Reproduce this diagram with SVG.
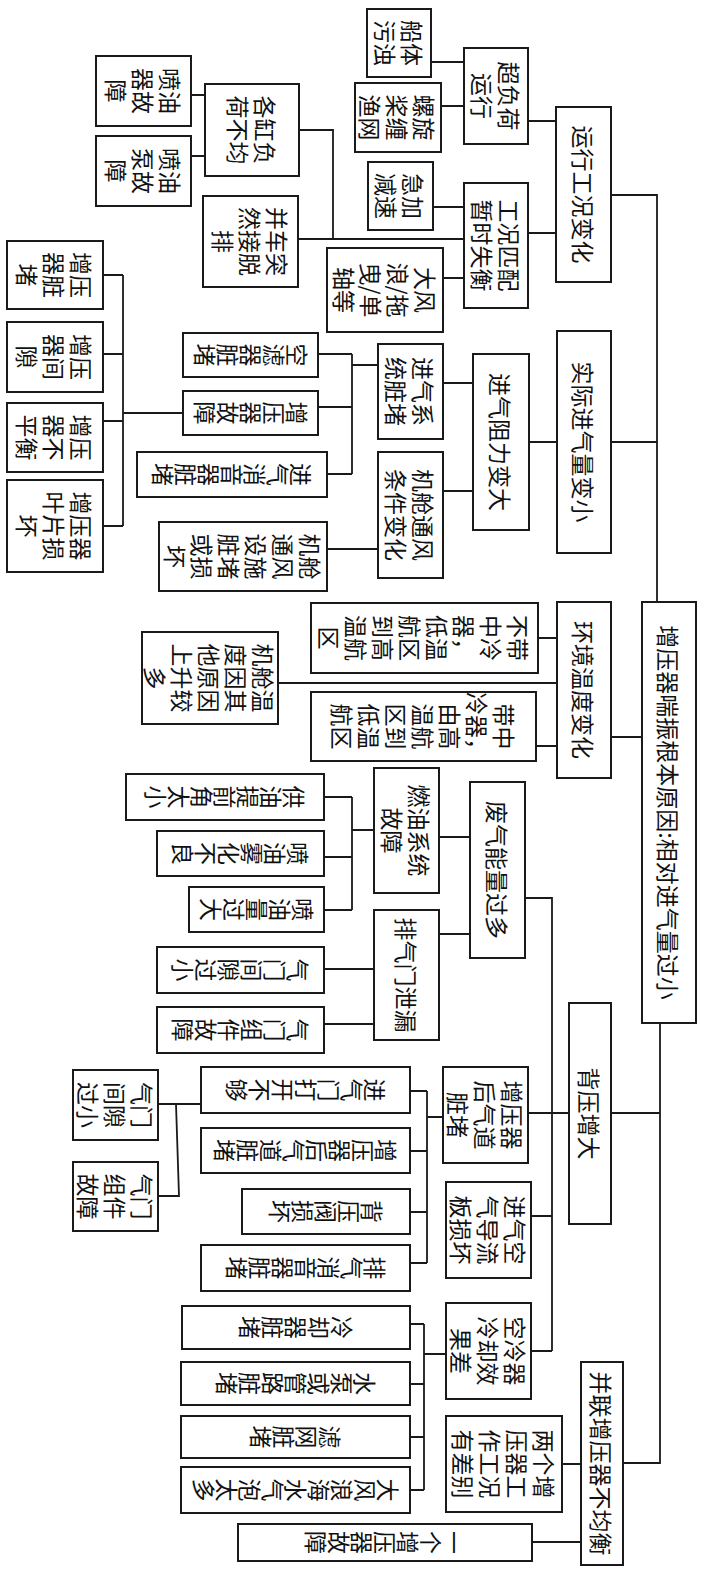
<svg xmlns="http://www.w3.org/2000/svg" width="720" height="1587" viewBox="0 0 720 1587">
<style>
.b{fill:#fff;stroke:#1a1a1a;stroke-width:2}
.c{fill:none;stroke:#1a1a1a;stroke-width:1.8}
.t{font-family:"Noto Sans CJK SC","Noto Sans",sans-serif;font-size:23px;fill:#111;text-anchor:middle;dominant-baseline:central}
.v{writing-mode:vertical-rl}
</style>
<rect width="720" height="1587" fill="#fff"/>
<g id="connectors">
<path class="c" d="M431,62H464M441,106H464M528,121H556M433,207H464M299,130H333V239M298,239H464M443,278H464M528,233H556M191,95H205M191,156H205"/>
<path class="c" d="M611,195H657V602M611,442H657M529,442H557M443,383H473M443,491H473M327,549H378"/>
<path class="c" d="M352,354V474M318,354H352M318,407H352M327,474H352M352,365H378"/>
<path class="c" d="M123,275V526M103,275H123M103,354H123M103,421H123M103,526H123M123,413H183"/>
<path class="c" d="M611,737H642M538,638H557M278,683H557M536,746H557"/>
<path class="c" d="M352,797V910M324,797H352M324,857H352M324,910H352M352,830H374M324,969H374M324,1024H374M439,837H470M439,934H470"/>
<path class="c" d="M525,898H552V1351M528,1113H569M611,1113H660M660,1023V1463H623M531,1216H552M531,1351H552"/>
<path class="c" d="M427,1091V1263M410,1091H427M410,1151H427M410,1212H427M410,1263H427M427,1117H443"/>
<path class="c" d="M158,1104H201M176,1104L179,1196H158"/>
<path class="c" d="M424,1324V1490M410,1324H424M410,1384H424M410,1437H424M410,1490H424M424,1354H446"/>
<path class="c" d="M562,1464H581M532,1542H581"/>
</g>
<g id="n1"><rect class="b" x="367" y="9" width="64" height="68"/><text class="t" transform="translate(412.5,43) rotate(90)">船体</text><text class="t" transform="translate(385.5,43) rotate(90)">污浊</text></g>
<g id="n2"><rect class="b" x="464" y="48" width="64" height="96"/><text class="t" transform="translate(509.5,96) rotate(90)">超负荷</text><text class="t" transform="translate(482.5,96) rotate(90)">运行</text></g>
<g id="n3"><rect class="b" x="355" y="83" width="86" height="69"/><text class="t" transform="translate(425,117.5) rotate(90)">螺旋</text><text class="t" transform="translate(398,117.5) rotate(90)">桨缠</text><text class="t" transform="translate(371,117.5) rotate(90)">渔网</text></g>
<g id="n4"><rect class="b" x="556" y="107" width="55" height="175"/><text class="t" transform="translate(583.5,194.5) rotate(90)">运行工况变化</text></g>
<g id="n5"><rect class="b" x="368" y="162" width="65" height="68"/><text class="t" transform="translate(414,196) rotate(90)">急加</text><text class="t" transform="translate(387,196) rotate(90)">减速</text></g>
<g id="n6"><rect class="b" x="464" y="183" width="64" height="125"/><text class="t" transform="translate(509.5,245.5) rotate(90)">工况匹配</text><text class="t" transform="translate(482.5,245.5) rotate(90)">暂时失衡</text></g>
<g id="n7"><rect class="b" x="327" y="248" width="116" height="84"/><text class="t" transform="translate(425.5,290) rotate(90)">大风</text><text class="t" transform="translate(398.5,290) rotate(90)">浪/拖</text><text class="t" transform="translate(371.5,290) rotate(90)">曳/单</text><text class="t" transform="translate(344.5,290) rotate(90)">轴等</text></g>
<g id="n8"><rect class="b" x="96" y="56" width="95" height="70"/><text class="t" transform="translate(170.5,91) rotate(90)">喷油</text><text class="t" transform="translate(143.5,91) rotate(90)">器故</text><text class="t" transform="translate(116.5,91) rotate(90)">障</text></g>
<g id="n9"><rect class="b" x="205" y="84" width="94" height="92"/><text class="t" transform="translate(265.5,130) rotate(90)">各缸负</text><text class="t" transform="translate(238.5,130) rotate(90)">荷不均</text></g>
<g id="n10"><rect class="b" x="96" y="136" width="95" height="70"/><text class="t" transform="translate(170.5,171) rotate(90)">喷油</text><text class="t" transform="translate(143.5,171) rotate(90)">泵故</text><text class="t" transform="translate(116.5,171) rotate(90)">障</text></g>
<g id="n11"><rect class="b" x="203" y="196" width="95" height="91"/><text class="t" transform="translate(277.5,241.5) rotate(90)">并车突</text><text class="t" transform="translate(250.5,241.5) rotate(90)">然接脱</text><text class="t" transform="translate(223.5,241.5) rotate(90)">排</text></g>
<g id="n12"><rect class="b" x="7" y="241" width="96" height="68"/><text class="t" transform="translate(82,275) rotate(90)">增压</text><text class="t" transform="translate(55,275) rotate(90)">器脏</text><text class="t" transform="translate(28,275) rotate(90)">堵</text></g>
<g id="n13"><rect class="b" x="7" y="322" width="96" height="70"/><text class="t" transform="translate(82,357) rotate(90)">增压</text><text class="t" transform="translate(55,357) rotate(90)">器间</text><text class="t" transform="translate(28,357) rotate(90)">隙</text></g>
<g id="n14"><rect class="b" x="7" y="403" width="96" height="69"/><text class="t" transform="translate(82,437.5) rotate(90)">增压</text><text class="t" transform="translate(55,437.5) rotate(90)">器不</text><text class="t" transform="translate(28,437.5) rotate(90)">平衡</text></g>
<g id="n15"><rect class="b" x="7" y="480" width="96" height="92"/><text class="t" transform="translate(82,526) rotate(90)">增压器</text><text class="t" transform="translate(55,526) rotate(90)">叶片损</text><text class="t" transform="translate(28,526) rotate(90)">坏</text></g>
<g id="n16"><rect class="b" x="183" y="333" width="135" height="44"/><text class="t v" transform="translate(250.5,355) rotate(90)">空滤器脏堵</text></g>
<g id="n17"><rect class="b" x="183" y="391" width="135" height="44"/><text class="t v" transform="translate(250.5,413) rotate(90)">增压器故障</text></g>
<g id="n18"><rect class="b" x="137" y="452" width="190" height="45"/><text class="t v" transform="translate(232,474.5) rotate(90)">进气消音器脏堵</text></g>
<g id="n19"><rect class="b" x="378" y="344" width="65" height="95"/><text class="t" transform="translate(424,391.5) rotate(90)">进气系</text><text class="t" transform="translate(397,391.5) rotate(90)">统脏堵</text></g>
<g id="n20"><rect class="b" x="159" y="522" width="168" height="69"/><text class="t" transform="translate(310.5,556.5) rotate(90)">机舱</text><text class="t" transform="translate(283.5,556.5) rotate(90)">通风</text><text class="t" transform="translate(256.5,556.5) rotate(90)">设施</text><text class="t" transform="translate(229.5,556.5) rotate(90)">脏堵</text><text class="t" transform="translate(202.5,556.5) rotate(90)">或损</text><text class="t" transform="translate(175.5,556.5) rotate(90)">坏</text></g>
<g id="n21"><rect class="b" x="378" y="452" width="65" height="126"/><text class="t" transform="translate(424,515) rotate(90)">机舱通风</text><text class="t" transform="translate(397,515) rotate(90)">条件变化</text></g>
<g id="n22"><rect class="b" x="473" y="354" width="56" height="176"/><text class="t" transform="translate(501,442) rotate(90)">进气阻力变大</text></g>
<g id="n23"><rect class="b" x="557" y="331" width="54" height="222"/><text class="t" transform="translate(584,442) rotate(90)">实际进气量变小</text></g>
<g id="n24"><rect class="b" x="642" y="602" width="54" height="421"/><text class="t" transform="translate(669,812.5) rotate(90)">增压器喘振根本原因:相对进气量过小</text></g>
<g id="n25"><rect class="b" x="557" y="602" width="54" height="176"/><text class="t" transform="translate(584,690) rotate(90)">环境温度变化</text></g>
<g id="n26"><rect class="b" x="311" y="603" width="227" height="70"/><text class="t" transform="translate(519,638) rotate(90)">不带</text><text class="t" transform="translate(492,638) rotate(90)">中冷</text><text class="t" transform="translate(465,638) rotate(90)">器，</text><text class="t" transform="translate(438,638) rotate(90)">低温</text><text class="t" transform="translate(411,638) rotate(90)">航区</text><text class="t" transform="translate(384,638) rotate(90)">到高</text><text class="t" transform="translate(357,638) rotate(90)">温航</text><text class="t" transform="translate(330,638) rotate(90)">区</text></g>
<g id="n27"><rect class="b" x="311" y="692" width="225" height="69"/><text class="t" transform="translate(504.5,726.5) rotate(90)">带中</text><text class="t" transform="translate(477.5,726.5) rotate(90)">冷器，</text><text class="t" transform="translate(450.5,726.5) rotate(90)">由高</text><text class="t" transform="translate(423.5,726.5) rotate(90)">温航</text><text class="t" transform="translate(396.5,726.5) rotate(90)">区到</text><text class="t" transform="translate(369.5,726.5) rotate(90)">低温</text><text class="t" transform="translate(342.5,726.5) rotate(90)">航区</text></g>
<g id="n28"><rect class="b" x="142" y="632" width="136" height="92"/><text class="t" transform="translate(264,678) rotate(90)">机舱温</text><text class="t" transform="translate(237,678) rotate(90)">度因其</text><text class="t" transform="translate(210,678) rotate(90)">他原因</text><text class="t" transform="translate(183,678) rotate(90)">上升较</text><text class="t" transform="translate(156,678) rotate(90)">多</text></g>
<g id="n29"><rect class="b" x="374" y="768" width="65" height="125"/><text class="t" transform="translate(420,830.5) rotate(90)">燃油系统</text><text class="t" transform="translate(393,830.5) rotate(90)">故障</text></g>
<g id="n30"><rect class="b" x="470" y="782" width="55" height="176"/><text class="t" transform="translate(497.5,870) rotate(90)">废气能量过多</text></g>
<g id="n31"><rect class="b" x="374" y="910" width="65" height="130"/><text class="t" transform="translate(406.5,975) rotate(90)">排气门泄漏</text></g>
<g id="n32"><rect class="b" x="126" y="774" width="198" height="46"/><text class="t v" transform="translate(225,797) rotate(90)">供油提前角太小</text></g>
<g id="n33"><rect class="b" x="157" y="831" width="167" height="45"/><text class="t v" transform="translate(240.5,853.5) rotate(90)">喷油雾化不良</text></g>
<g id="n34"><rect class="b" x="189" y="887" width="135" height="45"/><text class="t v" transform="translate(256.5,909.5) rotate(90)">喷油量过大</text></g>
<g id="n35"><rect class="b" x="157" y="947" width="167" height="46"/><text class="t v" transform="translate(240.5,970) rotate(90)">气门间隙过小</text></g>
<g id="n36"><rect class="b" x="157" y="1007" width="167" height="46"/><text class="t v" transform="translate(240.5,1030) rotate(90)">气门组件故障</text></g>
<g id="n37"><rect class="b" x="569" y="1003" width="42" height="221"/><text class="t" transform="translate(590,1113.5) rotate(90)">背压增大</text></g>
<g id="n38"><rect class="b" x="443" y="1067" width="85" height="96"/><text class="t" transform="translate(512.5,1115) rotate(90)">增压器</text><text class="t" transform="translate(485.5,1115) rotate(90)">后气道</text><text class="t" transform="translate(458.5,1115) rotate(90)">脏堵</text></g>
<g id="n39"><rect class="b" x="446" y="1182" width="85" height="96"/><text class="t" transform="translate(515.5,1230) rotate(90)">进气空</text><text class="t" transform="translate(488.5,1230) rotate(90)">气导流</text><text class="t" transform="translate(461.5,1230) rotate(90)">板损坏</text></g>
<g id="n40"><rect class="b" x="446" y="1303" width="85" height="96"/><text class="t" transform="translate(515.5,1351) rotate(90)">空冷器</text><text class="t" transform="translate(488.5,1351) rotate(90)">冷却效</text><text class="t" transform="translate(461.5,1351) rotate(90)">果差</text></g>
<g id="n41"><rect class="b" x="201" y="1067" width="209" height="46"/><text class="t v" transform="translate(305.5,1090) rotate(90)">进气门打开不够</text></g>
<g id="n42"><rect class="b" x="201" y="1128" width="209" height="45"/><text class="t v" transform="translate(305.5,1150.5) rotate(90)">增压器后气道脏堵</text></g>
<g id="n43"><rect class="b" x="242" y="1189" width="168" height="45"/><text class="t v" transform="translate(326,1211.5) rotate(90)">背压阀损坏</text></g>
<g id="n44"><rect class="b" x="201" y="1245" width="209" height="46"/><text class="t v" transform="translate(305.5,1268) rotate(90)">排气消音器脏堵</text></g>
<g id="n45"><rect class="b" x="73" y="1070" width="85" height="70"/><text class="t" transform="translate(142.5,1105) rotate(90)">气门</text><text class="t" transform="translate(115.5,1105) rotate(90)">间隙</text><text class="t" transform="translate(88.5,1105) rotate(90)">过小</text></g>
<g id="n46"><rect class="b" x="73" y="1162" width="85" height="69"/><text class="t" transform="translate(142.5,1196.5) rotate(90)">气门</text><text class="t" transform="translate(115.5,1196.5) rotate(90)">组件</text><text class="t" transform="translate(88.5,1196.5) rotate(90)">故障</text></g>
<g id="n47"><rect class="b" x="182" y="1306" width="228" height="43"/><text class="t v" transform="translate(296,1327.5) rotate(90)">冷却器脏堵</text></g>
<g id="n48"><rect class="b" x="181" y="1362" width="229" height="43"/><text class="t v" transform="translate(295.5,1383.5) rotate(90)">水泵或管路脏堵</text></g>
<g id="n49"><rect class="b" x="181" y="1416" width="229" height="42"/><text class="t v" transform="translate(295.5,1437) rotate(90)">滤网脏堵</text></g>
<g id="n50"><rect class="b" x="181" y="1467" width="229" height="46"/><text class="t v" transform="translate(295.5,1490) rotate(90)">大风浪海水气泡太多</text></g>
<g id="n51"><rect class="b" x="581" y="1362" width="42" height="203"/><text class="t" transform="translate(602,1463.5) rotate(90)">并联增压器不均衡</text></g>
<g id="n52"><rect class="b" x="446" y="1416" width="116" height="96"/><text class="t" transform="translate(544.5,1464) rotate(90)">两个增</text><text class="t" transform="translate(517.5,1464) rotate(90)">压器工</text><text class="t" transform="translate(490.5,1464) rotate(90)">作工况</text><text class="t" transform="translate(463.5,1464) rotate(90)">有差别</text></g>
<g id="n53"><rect class="b" x="238" y="1524" width="294" height="37"/><text class="t v" transform="translate(385,1542.5) rotate(90)">一个增压器故障</text></g>
</svg>
